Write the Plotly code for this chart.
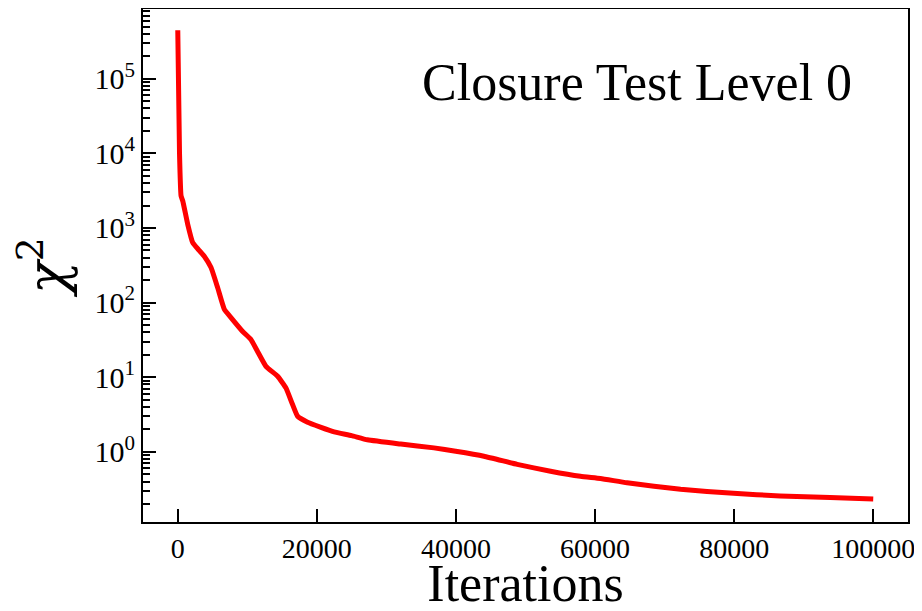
import plotly.graph_objects as go

# chi2 vs training iterations
iterations = [0, 250, 470, 720, 1430, 2150, 3000, 3830, 4780, 5740, 6700, 7650,
              9330, 10520, 11490, 12680, 14360, 15550, 16510, 17230, 18660, 20500,
              22490, 25000, 27270, 32060, 36840, 39960, 44020, 48810, 53600, 57900,
              60770, 64600, 72300, 79900, 86600, 93800, 100000]
chi2 = [446000, 10000, 2700, 2300, 1120, 635, 510, 415, 295, 158, 81, 63,
        41, 32, 22, 14, 10.3, 7.2, 4.3, 3.0, 2.5, 2.15,
        1.85, 1.65, 1.45, 1.27, 1.13, 1.02, 0.875, 0.68, 0.55, 0.47,
        0.44, 0.385, 0.315, 0.278, 0.257, 0.245, 0.233]

y_tickvals = [1, 10, 100, 1000, 10000, 100000]
y_ticktext = ["10<sup>0</sup>", "10<sup>1</sup>", "10<sup>2</sup>",
              "10<sup>3</sup>", "10<sup>4</sup>", "10<sup>5</sup>"]
x_tickvals = [0, 20000, 40000, 60000, 80000, 100000]

FONT = "Liberation Serif"

fig = go.Figure()
fig.add_trace(go.Scatter(x=iterations, y=chi2, mode="lines",
                         line=dict(color="#ff0000", width=5, shape="spline", smoothing=0.4),
                         showlegend=False))

axis_common = dict(showline=True, linecolor="black", linewidth=2, mirror=True,
                   showgrid=False, zeroline=False, ticks="inside", automargin=False,
                   tickcolor="black", tickwidth=2, ticklen=13)

fig.update_xaxes(range=[-5000, 105000], tickvals=x_tickvals, tickformat="d",
                 tickfont=dict(family=FONT, size=28, color="black"),
                 title=dict(text="Iterations", font=dict(family=FONT, size=52, color="black"),
                            standoff=16),
                 **axis_common)
fig.update_yaxes(type="log", range=[-0.94, 5.934], tickvals=y_tickvals, ticktext=y_ticktext,
                 tickfont=dict(family=FONT, size=30, color="black"),
                 minor=dict(ticks="inside", ticklen=7, tickwidth=1.5, tickcolor="black",
                            dtick="D1", showgrid=False),
                 title=dict(text="<i>χ</i><sup>2</sup>",
                            font=dict(family="DejaVu Serif", size=54, color="black")),
                 **axis_common)

fig.add_annotation(text="Closure Test Level 0", xref="paper", yref="paper",
                   x=0.929, y=0.857, xanchor="right", yanchor="middle", showarrow=False,
                   font=dict(family=FONT, size=52, color="black"))

# the page adds ~7px of body margin, so the figure is shrunk and shifted to compensate
fig.update_layout(width=915, height=604, plot_bgcolor="white", paper_bgcolor="white",
                  margin=dict(l=135, r=15, t=1, b=90))

fig.write_html("out.html")
